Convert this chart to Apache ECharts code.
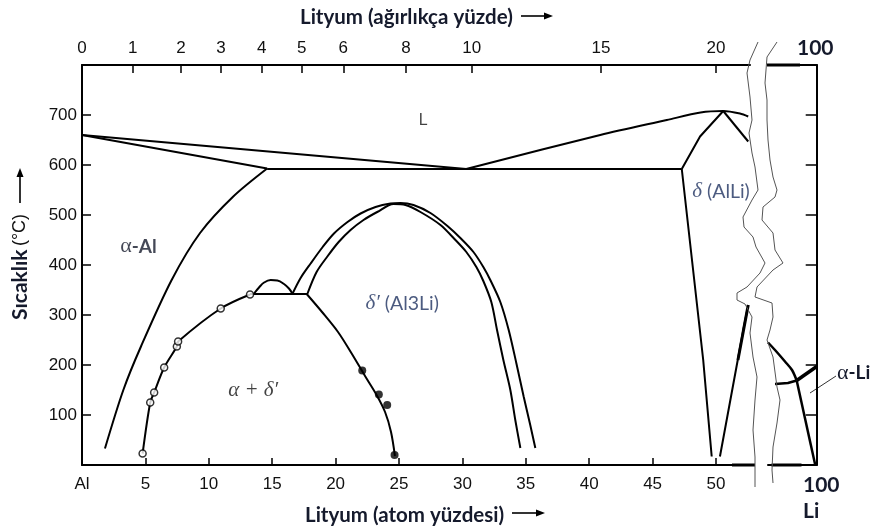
<!DOCTYPE html>
<html><head><meta charset="utf-8">
<script src="https://cdn.jsdelivr.net/npm/echarts@6/dist/echarts.min.js"></script>
<style>html,body{margin:0;padding:0;background:#fff}#c{width:873px;height:532px}</style>
</head><body><div id="c"></div>
<script>
// ---------- data (x = Li atom %, y = temperature °C) ----------
const wtTickLabels = [0, 1, 2, 3, 4, 5, 6, 8, 10, 15, 20];          // weight % labels (top axis)
const wtTickAt     = [0, 4.0, 7.81, 10.96, 14.17, 17.33, 20.61, 25.55, 30.73, 40.93, 50.0]; // their atom % positions
const liquidusAl   = [[0, 660], [30.3, 592]];
const liquidusLi   = [[30.3, 592], [40.87, 660], [46.12, 690], [48.78, 705], [50.55, 708], [51.89, 703], [52.54, 697]];
const solidusAl    = [[0, 660], [14.6, 593]];
const eutectic     = [[14.6, 592], [47.3, 592]];
const deltaLiqLeft = [[47.3, 592], [48.74, 657], [50.57, 708]];
const deltaLiqRight= [[50.57, 708], [52.54, 647]];
const deltaSolvL   = [[47.3, 592], [48.99, 210], [49.66, 17]];
const deltaSolvR   = [[50.31, 17], [52.15, 270], [52.54, 320]];
const deltaSolvRBold = [[51.73, 210], [52.54, 320]];
const alphaSolvus  = [[14.6, 593], [11.93, 537], [9.31, 464], [7.07, 370], [4.65, 237], [3.26, 150], [1.81, 33]];
const openCircles  = [[4.78, 23], [5.38, 125], [5.69, 145], [6.48, 195], [7.48, 237], [7.58, 247], [10.94, 313], [13.25, 341]];
const threePhase   = [[13.25, 342], [17.77, 342]];
const smallDome    = [[13.57, 343], [13.96, 355], [14.36, 365], [14.88, 370], [15.41, 369], [15.93, 362], [16.32, 353], [16.59, 343]];
const domeOuter    = [[16.59, 342], [17.24, 374], [18.03, 403], [18.98, 436], [19.87, 463], [20.94, 486], [21.97, 503], [23.15, 516], [24.33, 523], [25.12, 524], [26.14, 520], [27.48, 504], [28.82, 478], [29.84, 454], [30.87, 426], [31.65, 396], [32.2, 370], [32.99, 326], [33.65, 270], [34.25, 204], [34.83, 137], [35.35, 80], [35.75, 34]];
const domeInner    = [[17.77, 342], [18.5, 386], [19.35, 417], [20.24, 446], [21.18, 470], [22.2, 490], [23.28, 506], [24.57, 522], [25.51, 520], [26.69, 506], [28.27, 480], [29.45, 450], [30.31, 426], [31.1, 396], [31.65, 368], [32.28, 326], [32.73, 270], [33.23, 210], [33.78, 150], [34.17, 90], [34.57, 34]];
const solvusRight  = [[17.72, 342], [18.93, 306], [20.19, 266], [21.29, 222], [22.32, 178], [23.19, 142], [23.9, 106], [24.37, 66], [24.68, 18]];
const filledCircles= [[22.1, 189], [23.41, 141], [24.07, 120], [24.65, 20]];
// Li-rich side of the broken axis (atom %, 90..100)
const liCurve      = [[90, 245], [91.44, 230], [93.49, 207], [94.93, 190], [95.89, 169]];
const liHoriz      = [[91.44, 162], [94.1, 164], [95.89, 169]];
const liBold       = [[95.89, 169], [100, 197]];
const liSolvus     = [[95.89, 169], [99.7, 0]];
const regionLabels = [
  { value: [26.9, 688], key: 'L' },
  { value: [4.45, 437], key: 'aAl' },
  { value: [13.5, 150], key: 'ad' },
  { value: [25.25, 323], key: 'dp' },
  { value: [50.4, 547], key: 'd' }
];

// ---------- chart ----------
const NAVY = '#1f3260';
const INK = '#151a2c';
const chart = echarts.init(document.getElementById('c'));
function ln(data, extra) {
  return Object.assign({ type: 'line', data: data, symbol: 'none', showSymbol: false, silent: true,
    lineStyle: { color: '#000', width: 2 }, xAxisIndex: 0, yAxisIndex: 0, z: 3, animation: false }, extra || {});
}
const tickLbl = { fontFamily: 'Liberation Sans', fontSize: 17, color: '#111' };
const labelText = {
  L: { formatter: 'L', fontFamily: 'Liberation Sans', fontSize: 16, color: '#111' },
  aAl: { formatter: '{g|α}{b|-Al}', rich: { g: { fontFamily: 'Liberation Serif', fontSize: 22, color: INK }, b: { fontFamily: 'Lato', fontWeight: 'bold', fontSize: 19, color: INK } } },
  ad: { formatter: '{i|α + δ′}', rich: { i: { fontFamily: 'Liberation Serif', fontStyle: 'italic', fontSize: 21, color: '#111' } } },
  dp: { formatter: '{g|δ′}{b| (Al3Li)}', rich: { g: { fontFamily: 'Liberation Serif', fontStyle: 'italic', fontSize: 21, color: NAVY }, b: { fontFamily: 'Lato', fontSize: 19.5, color: NAVY } } },
  d: { formatter: '{g|δ}{b| (AlLi)}', rich: { g: { fontFamily: 'Liberation Serif', fontStyle: 'italic', fontSize: 21, color: NAVY }, b: { fontFamily: 'Lato', fontSize: 19.5, color: NAVY } } }
};
function arrow(x1, y1, x2, y2) {
  const dx = x2 - x1, dy = y2 - y1, L = Math.hypot(dx, dy), ux = dx / L, uy = dy / L;
  const bx = x2 - ux * 9, by = y2 - uy * 9;
  return [
    { type: 'line', shape: { x1: x1, y1: y1, x2: bx, y2: by }, style: { stroke: '#000', lineWidth: 1.6 } },
    { type: 'polygon', shape: { points: [[x2, y2], [bx - uy * 3.5, by + ux * 3.5], [bx + uy * 3.5, by - ux * 3.5]] }, style: { fill: '#000' } }
  ];
}
const wavyL = [[758, 42], [750, 60], [747, 73], [750, 97], [752, 120], [749, 133], [752, 153], [755, 167], [758, 190], [752, 200], [743, 217], [744, 227], [753, 237], [756, 247], [765, 263], [760, 273], [747, 287], [737, 293], [737, 300], [745, 304], [752, 317], [750, 333], [753, 357], [757, 377], [755, 400], [753, 430], [755, 457], [755, 487]];
const wavyR = [[777, 42], [767, 57], [765, 83], [767, 100], [767, 120], [768, 140], [770, 160], [773, 177], [777, 190], [775, 197], [763, 207], [762, 220], [773, 233], [775, 250], [783, 263], [773, 270], [757, 287], [755, 297], [772, 303], [773, 317], [770, 330], [767, 340], [773, 357], [777, 387], [780, 400], [777, 423], [773, 447], [772, 470], [773, 483]];

const graphic = [
  { type: 'polyline', shape: { points: wavyL }, style: { stroke: '#555', lineWidth: 1, fill: null }, z: 10 },
  { type: 'polyline', shape: { points: wavyR }, style: { stroke: '#555', lineWidth: 1, fill: null }, z: 10 },
  { type: 'line', shape: { x1: 732, y1: 465, x2: 755, y2: 465 }, style: { stroke: '#000', lineWidth: 3 } },
  { type: 'line', shape: { x1: 771.5, y1: 465, x2: 801.5, y2: 465 }, style: { stroke: '#000', lineWidth: 3 } },
  { type: 'line', shape: { x1: 767, y1: 65, x2: 800, y2: 65 }, style: { stroke: '#000', lineWidth: 3 } },
  { type: 'text', x: 300, y: 17, style: { text: 'Lityum (ağırlıkça yüzde)', fill: INK, fontFamily: 'Lato', fontWeight: 'bold', fontSize: 20.5, textAlign: 'left', textVerticalAlign: 'middle' } },
  { type: 'text', x: 305, y: 515, style: { text: 'Lityum (atom yüzdesi)', fill: INK, fontFamily: 'Lato', fontWeight: 'bold', fontSize: 20.5, textAlign: 'left', textVerticalAlign: 'middle' } },
  { type: 'text', x: 20, y: 267, rotation: Math.PI / 2, style: { text: '{a|Sıcaklık} {b|(°C)}', rich: { a: { fill: INK, fontFamily: 'Lato', fontWeight: 'bold', fontSize: 21 }, b: { fill: '#111', fontFamily: 'Liberation Sans', fontSize: 18 } }, textAlign: 'center', textVerticalAlign: 'middle' } },
  { type: 'text', x: 797, y: 48, style: { text: '100', fill: INK, fontFamily: 'Lato', fontWeight: 'bold', fontSize: 21, textAlign: 'left', textVerticalAlign: 'middle' } },
  { type: 'text', x: 803, y: 485, style: { text: '100', fill: INK, fontFamily: 'Lato', fontWeight: 'bold', fontSize: 21, textAlign: 'left', textVerticalAlign: 'middle' } },
  { type: 'text', x: 803, y: 511, style: { text: 'Li', fill: INK, fontFamily: 'Lato', fontWeight: 'bold', fontSize: 21, textAlign: 'left', textVerticalAlign: 'middle' } },
  { type: 'text', x: 837, y: 373, style: { text: '{g|α}{b|-Li}', rich: { g: { fill: INK, fontFamily: 'Liberation Serif', fontSize: 22 }, b: { fill: INK, fontFamily: 'Lato', fontWeight: 'bold', fontSize: 19 } }, textAlign: 'left', textVerticalAlign: 'middle' } },
  { type: 'line', shape: { x1: 810, y1: 393, x2: 836, y2: 376 }, style: { stroke: '#333', lineWidth: 1 } }
].concat(arrow(521, 16, 553, 16), arrow(512, 513, 545, 513), arrow(20, 203, 20, 168));

const option = {
  animation: false,
  backgroundColor: '#fff',
  grid: [
    { left: 82, top: 65, width: 668, height: 400 },
    { left: 768, top: 65, width: 48.7, height: 400 }
  ],
  xAxis: [
    { gridIndex: 0, type: 'value', position: 'bottom', min: 0, max: 52.68, interval: 5,
      axisLine: { lineStyle: { color: '#000', width: 2 } }, axisTick: { inside: true, length: 7, lineStyle: { color: '#000', width: 1.5 } },
      axisLabel: Object.assign({ margin: 11, showMaxLabel: false, formatter: v => v === 0 ? 'Al' : String(v) }, tickLbl), splitLine: { show: false } },
    { gridIndex: 0, type: 'value', position: 'top', min: 0, max: 52.68,
      axisLine: { lineStyle: { color: '#000', width: 2 } },
      axisTick: { inside: true, length: 8, customValues: wtTickAt, lineStyle: { color: '#000', width: 1.5 } },
      axisLabel: Object.assign({ margin: 8, customValues: wtTickAt, formatter: v => { const i = wtTickAt.findIndex(t => Math.abs(t - v) < 1e-6); return i >= 0 ? String(wtTickLabels[i]) : ''; } }, tickLbl),
      splitLine: { show: false } },
    { gridIndex: 1, type: 'value', position: 'bottom', min: 90, max: 100,
      axisLine: { lineStyle: { color: '#000', width: 2 } }, axisTick: { show: false }, axisLabel: { show: false }, splitLine: { show: false } },
    { gridIndex: 1, type: 'value', position: 'top', min: 90, max: 100,
      axisLine: { lineStyle: { color: '#000', width: 2 } }, axisTick: { show: false }, axisLabel: { show: false }, splitLine: { show: false } }
  ],
  yAxis: [
    { gridIndex: 0, type: 'value', position: 'left', min: 0, max: 800, interval: 100,
      axisLine: { lineStyle: { color: '#000', width: 2 } }, axisTick: { inside: true, length: 9, lineStyle: { color: '#000', width: 1.5 } },
      axisLabel: Object.assign({ margin: 5, showMinLabel: false, showMaxLabel: false }, tickLbl), splitLine: { show: false } },
    { gridIndex: 1, type: 'value', position: 'right', min: 0, max: 800, interval: 100,
      axisLine: { lineStyle: { color: '#000', width: 2 } }, axisTick: { inside: true, length: 11, lineStyle: { color: '#000', width: 1.5 } },
      axisLabel: { show: false }, splitLine: { show: false } }
  ],
  series: [
    ln(liquidusAl), ln(liquidusLi, { smooth: 0.3 }), ln(solidusAl), ln(eutectic),
    ln(deltaLiqLeft), ln(deltaLiqRight), ln(deltaSolvL), ln(deltaSolvR), ln(deltaSolvRBold, { lineStyle: { color: '#000', width: 3 } }),
    ln(alphaSolvus, { smooth: 0.3 }), ln(openCircles, { smooth: 0.3 }), ln(threePhase), ln(smallDome, { smooth: 0.4 }),
    ln(domeOuter, { smooth: 0.3 }), ln(domeInner, { smooth: 0.3 }), ln(solvusRight, { smooth: 0.3 }),
    ln(liCurve, { xAxisIndex: 2, yAxisIndex: 1, smooth: 0.3, lineStyle: { color: '#000', width: 2.5 } }),
    ln(liHoriz, { xAxisIndex: 2, yAxisIndex: 1, lineStyle: { color: '#000', width: 2.5 } }),
    ln(liBold, { xAxisIndex: 2, yAxisIndex: 1, lineStyle: { color: '#000', width: 3.5 } }),
    ln(liSolvus, { xAxisIndex: 2, yAxisIndex: 1, lineStyle: { color: '#000', width: 2.5 } }),
    { type: 'scatter', data: openCircles, symbol: 'circle', symbolSize: 7, itemStyle: { color: '#fff', borderColor: '#000', borderWidth: 1.5 }, z: 5, silent: true },
    { type: 'scatter', data: filledCircles, symbol: 'circle', symbolSize: 8, itemStyle: { color: '#000' }, z: 5, silent: true },
    { type: 'scatter', symbolSize: 0, silent: true, z: 6,
      data: regionLabels.map(r => ({ value: r.value, label: Object.assign({ show: true, position: 'inside' }, labelText[r.key]) })) }
  ],
  graphic: graphic
};
chart.setOption(option);
</script></body></html>
